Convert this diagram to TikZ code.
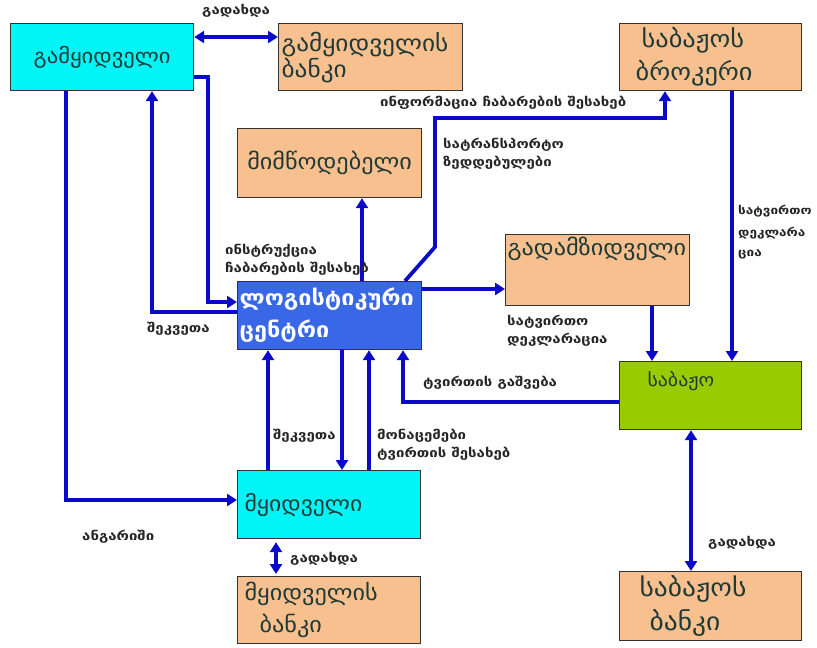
\documentclass[tikz,border=0pt]{standalone}
\usepackage{fontspec}
\newfontfamily\geo[FakeStretch=1.1]{DejaVu Sans}
\newfontfamily\geol[FakeStretch=1.2]{DejaVu Sans}
\usetikzlibrary{arrows.meta}
\definecolor{cyanbox}{HTML}{00F6F6}
\definecolor{peach}{HTML}{F9C08F}
\definecolor{lcblue}{HTML}{3868E8}
\definecolor{custgreen}{HTML}{99CC00}
\definecolor{linkblue}{HTML}{0A0AC8}
\definecolor{darktext}{HTML}{1E3A36}
\newcommand\gsz[2]{\geo\fontsize{#1}{#2}\selectfont}
\begin{document}
\begin{tikzpicture}[x=1pt,y=-1pt,
  box/.style={draw=black!80, line width=1.2pt, anchor=north west, inner sep=0pt,
    text=darktext, align=left},
  lbl/.style={font=\geol\bfseries\fontsize{12.5}{18}\selectfont, anchor=north west, align=left, inner sep=0pt, text=black!85},
  conn/.style={draw=linkblue, line width=3.8pt, -{Triangle[length=10pt,width=12pt]}},
  conn2/.style={draw=linkblue, line width=3.8pt, {Triangle[length=10pt,width=12pt]}-{Triangle[length=10pt,width=12pt]}}]
\useasboundingbox (0,0) rectangle (817,648);
\fill[white] (0,0) rectangle (817,648);

% boxes
\node[box, fill=cyanbox, minimum width=183pt, minimum height=67pt, text width=183pt, align=center, font=\gsz{20.5}{26}] (seller) at (10,23) {გამყიდველი\\[6pt]};
\node[box, fill=peach, minimum width=184pt, minimum height=67pt, text width=182pt, font=\gsz{23}{26}] (sbank) at (278,23) {\hspace*{2pt}გამყიდველის\\\hspace*{2pt}ბანკი};
\node[box, fill=peach, minimum width=182pt, minimum height=67pt, text width=170pt, font=\gsz{24}{33}] (broker) at (619,23) {\hspace*{16pt}საბაჟოს\\\hspace*{10pt}ბროკერი};
\node[box, fill=peach, minimum width=184pt, minimum height=69pt, text width=184pt, align=center, font=\gsz{22}{26}] (supp) at (237,128) {მიმწოდებელი};
\node[box, fill=lcblue, text=white, minimum width=184pt, minimum height=68pt, text width=184pt, font=\gsz{21.3}{32}\bfseries] (lc) at (237,281) {\hspace*{2pt}ლოგისტიკური\\\hspace*{2pt}ცენტრი};
\node[box, fill=peach, minimum width=184pt, minimum height=71pt, text width=184pt, font=\gsz{22}{26}] (carrier) at (505,234) {\hspace*{2pt}გადამზიდველი\\[14pt]\strut};
\node[box, fill=custgreen, minimum width=182pt, minimum height=68pt, text width=182pt, font=\gsz{18}{24}] (customs) at (619,361) {\hspace*{28pt}საბაჟო\\[2pt]\strut};
\node[box, fill=cyanbox, minimum width=183pt, minimum height=68pt, text width=183pt, font=\gsz{21.5}{26}] (buyer) at (237,470) {\hspace*{7pt}მყიდველი};
\node[box, fill=peach, minimum width=183pt, minimum height=67pt, text width=183pt, font=\gsz{22}{32}] (bbank) at (237,576) {\hspace*{7pt}მყიდველის\\\hspace*{22pt}ბანკი};
\node[box, fill=peach, minimum width=182pt, minimum height=69pt, text width=182pt, font=\gsz{25}{34}] (cbank) at (619,571) {\hspace*{20pt}საბაჟოს\\\hspace*{30pt}ბანკი};

% connectors
\draw[conn2] (seller.east |- 0,37) -- (sbank.west |- 0,37);
\draw[conn] (seller.east |- 0,77) -| (208,302) -- (lc.west |- 0,302);
\draw[conn] (lc.west |- 0,312) -| (152,0 |- seller.south);
\draw[conn] (66,0 |- seller.south) |- (buyer.west |- 0,500);
\draw[conn] (362,0 |- lc.north) -- (362,0 |- supp.south);
\draw[conn] (405,0 |- lc.north) -- (435,247) -- (435,118) -| (665,0 |- broker.south);
\draw[conn] (lc.east |- 0,289) -- (carrier.west |- 0,289);
\draw[conn] (652,0 |- carrier.south) -- (652,0 |- customs.north);
\draw[conn] (732,0 |- broker.south) -- (732,0 |- customs.north);
\draw[conn] (customs.west |- 0,402) -| (403,0 |- lc.south);
\draw[conn] (268,0 |- buyer.north) -- (268,0 |- lc.south);
\draw[conn] (342,0 |- lc.south) -- (342,0 |- buyer.north);
\draw[conn] (369,0 |- buyer.north) -- (369,0 |- lc.south);
\draw[conn2, shorten <=3pt, shorten >=2pt] (276,0 |- buyer.south) -- (276,0 |- bbank.north);
\draw[conn2] (691,0 |- customs.south) -- (691,0 |- cbank.north);

% labels
\node[lbl] (l1) at (202,4) {გადახდა};
\node[lbl] (l2) at (380,96) {ინფორმაცია ჩაბარების შესახებ};
\node[lbl] (l3) at (443,138) {სატრანსპორტო\\ზედდებულები};
\node[lbl] (l4) at (225,244) {ინსტრუქცია\\ჩაბარების შესახებ};
\node[lbl] (l5) at (147,322) {შეკვეთა};
\node[lbl] (l6) at (507,315) {სატვირთო\\დეკლარაცია};
\node[lbl, font=\geol\bfseries\fontsize{11.3}{18}\selectfont] (l7) at (738,205) {სატვირთო\\[4pt]დეკლარა\\[2pt]ცია};
\node[lbl] (l8) at (423,376) {ტვირთის გაშვება};
\node[lbl] (l9) at (273,429) {შეკვეთა};
\node[lbl] (l10) at (377,429) {მონაცემები\\ტვირთის შესახებ};
\node[lbl] (l11) at (82,530) {ანგარიში};
\node[lbl] (l12) at (290,552) {გადახდა};
\node[lbl] (l13) at (708,536) {გადახდა};
\end{tikzpicture}
\end{document}
